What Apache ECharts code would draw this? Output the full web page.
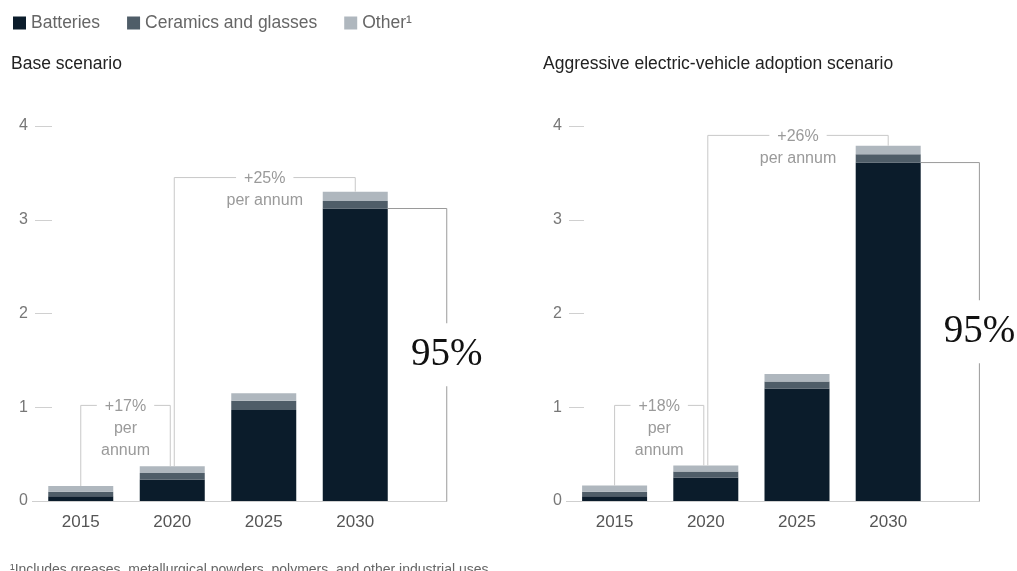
<!DOCTYPE html>
<html><head><meta charset="utf-8">
<script src="https://cdn.jsdelivr.net/npm/echarts@6/dist/echarts.min.js"></script>
<style>html,body{margin:0;padding:0;background:#fff}#c{width:1017px;height:571px}</style>
</head><body><div id="c"></div>
<script>
// ---------- data ----------
const categories = ['2015', '2020', '2025', '2030'];
const seriesNames = ['Batteries', 'Ceramics and glasses', 'Other¹'];
const baseBatteries = [0.05, 0.23, 0.97, 3.12];
const baseCeramics  = [0.05, 0.07, 0.10, 0.08];
const baseOther     = [0.06, 0.07, 0.08, 0.10];
const aggBatteries  = [0.05, 0.25, 1.20, 3.61];
const aggCeramics   = [0.05, 0.065, 0.075, 0.09];
const aggOther      = [0.065, 0.065, 0.08, 0.09];
const yTicks = [0, 1, 2, 3, 4];
const baseGrowthLabels = [['+17%', 'per', 'annum'], ['+25%', 'per annum']];
const aggGrowthLabels  = [['+18%', 'per', 'annum'], ['+26%', 'per annum']];
const shareLabels = ['95%', '95%'];
const titles = ['Base scenario', 'Aggressive electric-vehicle adoption scenario'];
const footnote = '¹Includes greases, metallurgical powders, polymers, and other industrial uses.';

// ---------- layout / style ----------
const FONT = '"Liberation Sans", Arial, sans-serif';
const colors = ['#0b1c2b', '#4f5d68', '#afb7be'];
const panels = [
  { b: baseBatteries, c: baseCeramics, o: baseOther, growth: baseGrowthLabels, levels: [1.02, 3.45] },
  { b: aggBatteries,  c: aggCeramics,  o: aggOther,  growth: aggGrowthLabels,  levels: [1.02, 3.90] }
];
const grids = [
  { left: 35, top: 126, width: 366, height: 375 },
  { left: 569, top: 126, width: 364.8, height: 375 }
];
const tickLen = [17, 15];
const BAR_W = 65;

const chart = echarts.init(document.getElementById('c'), null, { renderer: 'canvas' });

const xAxes = [], yAxes = [], series = [];
panels.forEach((p, g) => {
  xAxes.push({
    type: 'category', gridIndex: g, data: categories,
    axisLine: { show: false }, axisTick: { show: false },
    axisLabel: { color: '#555', fontSize: 17, fontFamily: FONT, margin: 13 }
  });
  yAxes.push({
    type: 'value', gridIndex: g, min: yTicks[0], max: yTicks[yTicks.length - 1], interval: 1,
    splitLine: { show: false }, axisLine: { show: false },
    axisTick: { show: true, inside: true, length: tickLen[g], lineStyle: { color: '#d0d0d0', width: 1 } },
    axisLabel: { color: '#777', fontSize: 16, fontFamily: FONT, margin: 7 }
  });
  [p.b, p.c, p.o].forEach((arr, k) => {
    series.push({
      name: seriesNames[k], type: 'bar', stack: 'p' + g, xAxisIndex: g, yAxisIndex: g,
      barWidth: BAR_W, data: arr, itemStyle: { color: colors[k] }, silent: true
    });
  });
});

chart.setOption({
  animation: false,
  backgroundColor: '#fff',
  legend: {
    left: 13, top: 14, padding: 0, itemWidth: 13, itemHeight: 13, icon: 'rect', itemGap: 27,
    data: seriesNames, textStyle: { color: '#666', fontSize: 17.5, fontFamily: FONT }
  },
  title: [
    { text: titles[0], left: 6, top: 50, textStyle: { fontSize: 17.5, fontWeight: 'normal', color: '#222', fontFamily: FONT } },
    { text: titles[1], left: 538, top: 50, textStyle: { fontSize: 17.5, fontWeight: 'normal', color: '#222', fontFamily: FONT } },
    { text: footnote, left: 5, top: 558, textStyle: { fontSize: 14, fontWeight: 'normal', color: '#666', fontFamily: FONT } }
  ],
  grid: grids,
  xAxis: xAxes,
  yAxis: yAxes,
  series: series
});

// ---------- annotations (positions derived from the axes) ----------
const graphics = [];
panels.forEach((p, g) => {
  const px = (x, y) => chart.convertToPixel({ gridIndex: g }, [x, y]);
  const totals = p.b.map((v, i) => v + p.c[i] + p.o[i]);
  const bw = px(1, 0)[0] - px(0, 0)[0];
  const zero = px(0, 0);
  const last = categories.length - 1;
  const brX = px(last, 0)[0] + bw;
  // growth brackets
  const pairs = [[0, 1, 0, -2], [1, 3, 2, 0]];
  pairs.forEach((pr, k) => {
    const a = px(pr[0], totals[pr[0]]), b = px(pr[1], totals[pr[1]]);
    const yH = px(0, p.levels[k])[1];
    const xa = a[0] + pr[2], xb = b[0] + pr[3];
    graphics.push({
      type: 'polyline', silent: true, z: 10,
      shape: { points: [[xa, a[1]], [xa, yH], [xb, yH], [xb, b[1]]] },
      style: { stroke: '#c8c8c8', lineWidth: 1, fill: null }
    });
    p.growth[k].forEach((t, i) => {
      graphics.push({
        type: 'text', silent: true, z: 11,
        style: {
          text: t, x: (xa + xb) / 2, y: yH + 1 + i * 22, align: 'center', verticalAlign: 'middle',
          fill: '#9a9a9a', font: '16px ' + FONT,
          backgroundColor: i === 0 ? '#fff' : null, padding: i === 0 ? [0, 8] : 0
        }
      });
    });
  });
  // baseline
  graphics.push({
    type: 'line', silent: true, z: 9,
    shape: { x1: zero[0] - bw / 2 - 3, y1: zero[1] + 0.5, x2: brX, y2: zero[1] + 0.5 },
    style: { stroke: '#cfcfcf', lineWidth: 1 }
  });
  // share bracket
  const t = px(last, p.b[last]);
  graphics.push({
    type: 'polyline', silent: true, z: 10,
    shape: { points: [[t[0] + BAR_W / 2, t[1]], [brX, t[1]], [brX, zero[1] + 0.5]] },
    style: { stroke: '#9a9a9a', lineWidth: 1, fill: null }
  });
  graphics.push({
    type: 'text', silent: true, z: 11,
    style: {
      text: shareLabels[g], x: brX, y: (t[1] + zero[1]) / 2, align: 'center', verticalAlign: 'middle',
      fill: '#111', font: '39px "Liberation Serif", "DejaVu Serif", serif',
      backgroundColor: '#fff', padding: [12, 4]
    }
  });
});
chart.setOption({ graphic: graphics });
</script>
</body></html>
